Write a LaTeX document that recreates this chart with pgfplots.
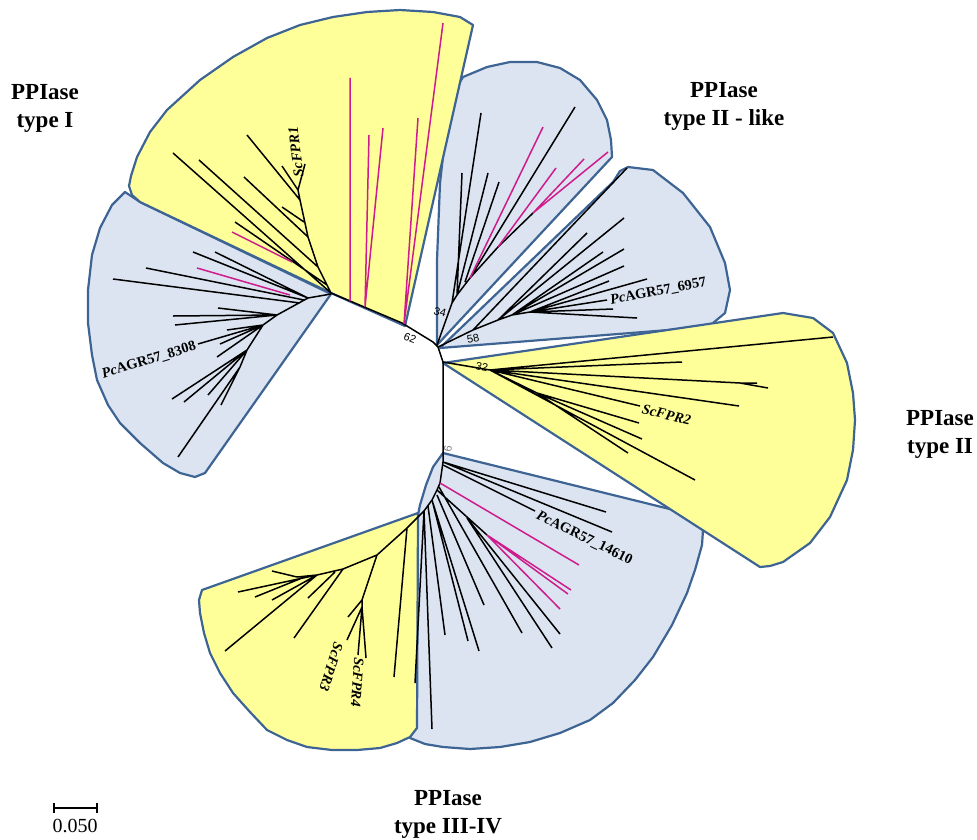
\documentclass[border=0pt]{standalone}
\usepackage{pgfplots}
\pgfplotsset{compat=1.18}
\usepackage{fontspec}
\setmainfont{Liberation Serif}
\newfontfamily\bsfont{Liberation Sans}
\definecolor{cladeyellow}{RGB}{255,255,153}
\definecolor{cladeblue}{RGB}{219,228,240}
\definecolor{cladeborder}{RGB}{62,100,148}
\definecolor{leafpink}{RGB}{206,28,140}
\tikzset{
    clade/.style={draw=cladeborder, line width=1.1pt, line join=round},
    branch/.style={black, line width=0.75pt},
    pinkbranch/.style={leafpink, line width=0.75pt},
    boot/.style={font=\bsfont\fontsize{5.5}{6}\selectfont, inner sep=0pt},
    leaf/.style={font=\fontsize{7.2}{8}\selectfont\bfseries, inner sep=0pt},
    title/.style={font=\fontsize{11.5}{14}\selectfont\bfseries, align=center, inner sep=0pt},
}
\begin{document}
\begin{tikzpicture}
\begin{axis}[
    scale only axis,
    width=488.5pt, height=418pt,
    xmin=0, xmax=977, ymin=0, ymax=836,
    y dir=reverse,
    hide axis, clip=false,
    unbounded coords=jump,
]
\addplot[draw=none] coordinates {(0,0) (977,836)};

% ---- blue clades (drawn first) ----
% PcAGR57_8308 group
\addplot[clade, fill=cladeblue] coordinates {
 (331,294) (140,202) (125,192) (112,205) (100,228) (92,255) (88,290) (88,323)
 (92,355) (97,380) (108,405) (120,423) (140,443) (163,463) (180,473) (195,477) (205,473)
} -- cycle;
% type II - like, upper part
\addplot[clade, fill=cladeblue] coordinates {
 (437,345) (437,260) (440,183) (447,120) (455,90) (463,77) (487,67) (510,62) (537,62)
 (560,68) (580,80) (597,100) (607,120) (611,140) (612,157)
} -- cycle;
% type II - like, PcAGR57_6957 part
\addplot[clade, fill=cladeblue] coordinates {
 (440,348) (613,182) (620,171) (628,167) (653,170) (683,193) (710,227) (725,263)
 (730,290) (725,313) (713,323) (707,327)
} -- cycle;
% type III-IV, blue part
\addplot[clade, fill=cladeblue] coordinates {
 (443,453) (698,516) (703,530) (702,545) (695,570) (687,593) (672,625) (653,657)
 (635,680) (613,703) (590,720) (560,733) (530,742) (500,747) (470,749) (443,747)
 (425,744) (410,738) (412,700) (417,520) (420,505) (426,485) (433,467)
} -- cycle;

% ---- yellow clades ----
% type I
\addplot[clade, fill=cladeyellow] coordinates {
 (331,293) (140,202) (132,195) (129,186) (131,176) (137,157) (150,132) (167,110)
 (200,80) (233,57) (267,38) (300,25) (333,17) (367,12) (400,10) (433,12) (460,17)
 (473,25) (405,326)
} -- cycle;
% type II
\addplot[clade, fill=cladeyellow] coordinates {
 (443,363) (783,313) (813,318) (833,333) (847,363) (853,393) (855,420) (853,450)
 (847,480) (830,517) (810,543) (783,562) (770,566) (760,567)
} -- cycle;
% type III-IV, yellow part
\addplot[clade, fill=cladeyellow] coordinates {
 (418,513) (202,590) (199,600) (200,613) (204,633) (210,653) (220,673) (233,693)
 (250,712) (267,730) (287,740) (307,747) (332,750) (357,750) (380,748) (397,743)
 (410,737) (417,728)
} -- cycle;

% ---- branches ----
% backbone
\addplot[branch] coordinates {
 (331,293) (402,323) (433,342) (438,347) (443,362) (443,447) (443,453) (443,462)
 (440,483) (437,490) (432,500) (424,511)
};
% type I
\addplot[branch] coordinates {
 (331,293) (318,267) (308,237) (300,200) (298,190) (nan,nan)
 (331,293) (173,153) (nan,nan)
 (318,267) (199,160) (nan,nan)
 (327,285) (235,222) (nan,nan)
 (308,237) (244,177) (nan,nan)
 (304,222) (282,207) (nan,nan)
 (300,200) (247,135) (nan,nan)
 (298,190) (282,166) (nan,nan)
 (298,190) (305,164)
};
\addplot[pinkbranch] coordinates {
 (292,262) (232,232) (nan,nan)
 (350,301) (350,78) (nan,nan)
 (365,307) (369,135) (nan,nan)
 (365,307) (383,128) (nan,nan)
 (404,324) (418,118) (nan,nan)
 (404,324) (443,23)
};
% PcAGR57_8308 group
\addplot[branch] coordinates {
 (331,294) (308,298) (277,315) (263,325) (247,350) (240,367) (nan,nan)
 (308,298) (193,252) (nan,nan)
 (308,298) (215,252) (nan,nan)
 (304,300) (146,268) (nan,nan)
 (300,303) (113,279) (nan,nan)
 (277,315) (218,308) (nan,nan)
 (277,315) (173,316) (nan,nan)
 (277,315) (175,325) (nan,nan)
 (263,325) (227,330) (nan,nan)
 (263,325) (198,344) (nan,nan)
 (263,325) (220,344) (nan,nan)
 (263,325) (217,357) (nan,nan)
 (247,350) (172,399) (nan,nan)
 (247,350) (184,402) (nan,nan)
 (247,350) (208,395) (nan,nan)
 (240,367) (221,405) (nan,nan)
 (240,367) (178,457)
};
\addplot[pinkbranch] coordinates {(290,295) (197,268)};
% type II - like, upper part
\addplot[branch] coordinates {
 (437,345) (452,303) (481,113) (nan,nan)
 (452,303) (457,295) (462,173) (nan,nan)
 (457,295) (488,173) (nan,nan)
 (465,282) (499,182) (nan,nan)
 (457,295) (470,278) (498,247) (533,213) (nan,nan)
 (470,278) (575,107)
};
\addplot[pinkbranch] coordinates {
 (470,278) (543,127) (nan,nan)
 (498,247) (556,168) (nan,nan)
 (533,213) (584,159) (nan,nan)
 (533,213) (608,152)
};
% type II - like, PcAGR57_6957 part
\addplot[branch] coordinates {
 (438,347) (473,330) (498,320) (512,315) (530,312) (nan,nan)
 (473,330) (627,168) (nan,nan)
 (498,320) (587,233) (nan,nan)
 (498,320) (624,218) (nan,nan)
 (512,315) (603,252) (nan,nan)
 (512,315) (624,249) (nan,nan)
 (512,315) (624,266) (nan,nan)
 (530,312) (609,281) (nan,nan)
 (530,312) (647,279) (nan,nan)
 (530,312) (607,300) (nan,nan)
 (530,312) (613,309) (nan,nan)
 (530,312) (637,318)
};
% type II
\addplot[branch] coordinates {
 (443,362) (490,370) (nan,nan)
 (490,370) (833,337) (nan,nan)
 (490,370) (682,362) (nan,nan)
 (490,370) (740,383) (757,383) (nan,nan)
 (740,383) (768,388) (nan,nan)
 (490,370) (739,406) (nan,nan)
 (490,370) (640,406) (nan,nan)
 (490,370) (537,393) (639,423) (nan,nan)
 (537,393) (642,439) (nan,nan)
 (537,393) (628,453) (nan,nan)
 (490,370) (695,480)
};
% type III-IV, blue part
\addplot[branch] coordinates {
 (443,462) (606,512) (nan,nan)
 (443,462) (612,532) (nan,nan)
 (443,465) (535,511) (nan,nan)
 (437,490) (487,535) (nan,nan)
 (467,518) (560,634) (nan,nan)
 (467,518) (552,648) (nan,nan)
 (439,487) (522,633) (nan,nan)
 (437,495) (484,605) (nan,nan)
 (432,500) (479,651) (nan,nan)
 (432,500) (468,641) (nan,nan)
 (428,506) (445,635) (nan,nan)
 (424,511) (432,729) (nan,nan)
 (424,511) (415,683)
};
\addplot[pinkbranch] coordinates {
 (440,483) (579,565) (nan,nan)
 (487,535) (571,590) (nan,nan)
 (487,535) (568,594) (nan,nan)
 (487,535) (560,609)
};
% type III-IV, yellow part
\addplot[branch] coordinates {
 (424,511) (407,528) (377,555) (343,569) (317,575) (297,577) (nan,nan)
 (297,577) (272,571) (nan,nan)
 (317,575) (238,592) (nan,nan)
 (307,576) (255,597) (nan,nan)
 (317,575) (272,600) (nan,nan)
 (317,575) (225,651) (nan,nan)
 (335,572) (308,598) (nan,nan)
 (343,569) (294,638) (nan,nan)
 (377,555) (362,600) (348,617) (nan,nan)
 (362,600) (362,607) (347,640) (nan,nan)
 (362,607) (358,655) (nan,nan)
 (362,607) (366,658) (nan,nan)
 (407,528) (394,677)
};

% scale bar
\addplot[black, line width=0.8pt] coordinates {
 (54,808) (97,808) (nan,nan) (54,803) (54,813) (nan,nan) (97,803) (97,813)
};
\node[font=\fontsize{10}{12}\selectfont] at (axis cs:75,826) {0.050};

% bootstrap values
\node[boot, rotate=-22] at (axis cs:410,338) {62};
\node[boot, rotate=-15] at (axis cs:440,312) {34};
\node[boot, rotate=12] at (axis cs:473,339) {58};
\node[boot, rotate=-12] at (axis cs:482,367) {32};
\node[boot, rotate=80, text=gray] at (axis cs:448,449) {6};

% leaf labels
\node[leaf, anchor=west, rotate=97] at (axis cs:299,177) {\itshape ScFPR1};
\node[leaf, anchor=east, rotate=17] at (axis cs:196,346) {\textit{Pc}AGR57\_8308};
\node[leaf, anchor=west, rotate=11] at (axis cs:610,301) {\textit{Pc}AGR57\_6957};
\node[leaf, anchor=west, rotate=-13] at (axis cs:642,409) {\itshape ScFPR2};
\node[leaf, anchor=west, rotate=-26] at (axis cs:537,515) {\textit{Pc}AGR57\_14610};
\node[leaf, anchor=west, rotate=-108] at (axis cs:339,643) {\itshape ScFPR3};
\node[leaf, anchor=west, rotate=-94] at (axis cs:359,657) {\itshape ScFPR4};

% clade titles
\node[title] at (axis cs:45,108) {PPIase\\type I};
\node[title] at (axis cs:724,106) {PPIase\\type II - like};
\node[title] at (axis cs:940,434) {PPIase\\type II};
\node[title] at (axis cs:448,814) {PPIase\\type III-IV};
\end{axis}
\end{tikzpicture}
\end{document}
